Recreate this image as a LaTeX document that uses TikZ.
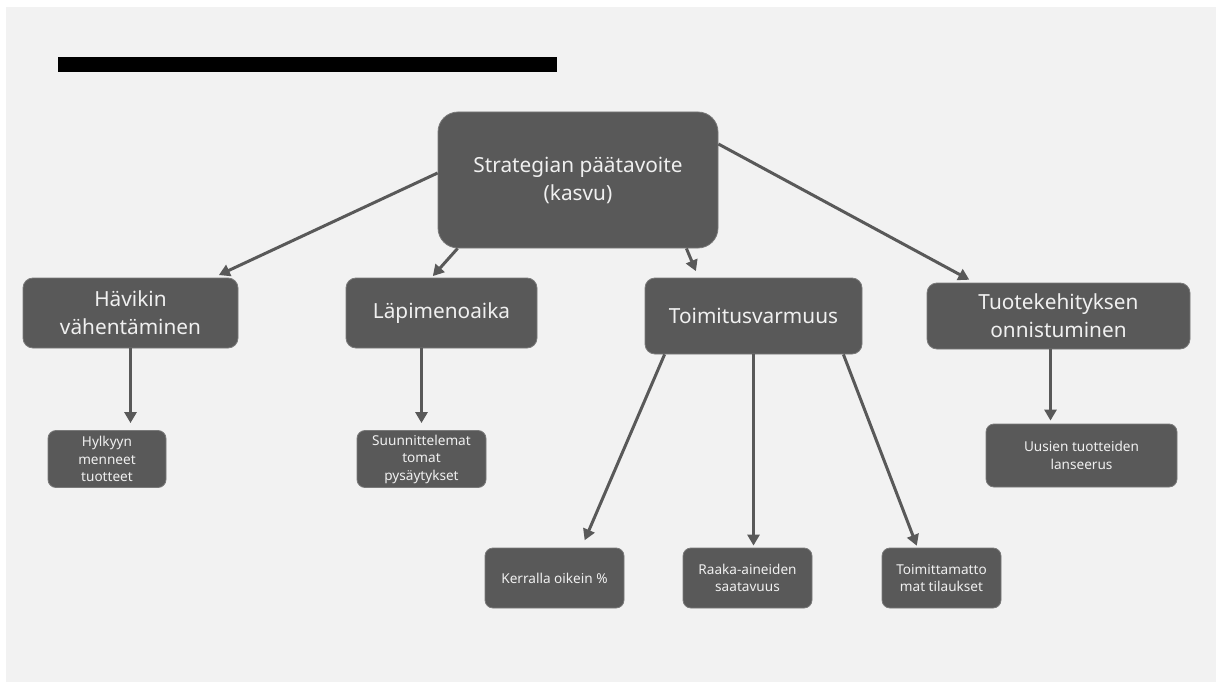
\documentclass[tikz,border=0pt]{standalone}
\usepackage{fontspec}
\setmainfont{Noto Sans}
\usetikzlibrary{arrows.meta, positioning, calc}
\definecolor{boxgray}{RGB}{89,89,89}
\definecolor{pagegray}{RGB}{242,242,242}
\definecolor{textgray}{RGB}{240,240,240}
\tikzset{
  goalbox/.style={rectangle, align=center, draw=boxgray!80!white, fill=boxgray, text=textgray, font=\fontsize{20.8}{28}\selectfont, rounded corners=20pt, line width=0.8pt, inner sep=0pt},
  areabox/.style={rectangle, align=center, draw=boxgray!80!white, fill=boxgray, text=textgray, font=\fontsize{20.8}{28}\selectfont, rounded corners=10pt, line width=0.8pt, inner sep=0pt},
  metricbox/.style={rectangle, align=center, draw=boxgray!80!white, fill=boxgray, text=textgray, font=\fontsize{13.6}{17.5}\selectfont, rounded corners=8pt, line width=0.8pt, inner sep=0pt},
  arrow/.style={-{Triangle[length=11pt, width=12pt]}, line width=3pt, draw=boxgray},
}

\begin{document}
\begin{tikzpicture}[x=1pt, y=-1pt]
\useasboundingbox (0,0) rectangle (1216,682);
\fill[pagegray] (6,7) rectangle (1216,682);
\fill[black] (58,57) rectangle (557,72);
% top level
\node (goal) [goalbox, minimum width=280pt, minimum height=136pt] at (578,180) {Strategian päätavoite\\(kasvu)};
% second level
\node (havikki) [areabox, minimum width=215pt, minimum height=70pt] at (130.5,313) {Hävikin\\vähentäminen};
\node (lapi)    [areabox, minimum width=191pt, minimum height=70pt] at (441.5,313) {Läpimenoaika};
\node (toim)    [areabox, minimum width=217pt, minimum height=76pt] at (753.5,316) {Toimitusvarmuus};
\node (tuote)   [areabox, minimum width=263pt, minimum height=66pt] at (1058.5,316) {Tuotekehityksen\\onnistuminen};
% metrics
\node (hylky)    [metricbox, minimum width=118pt, minimum height=57pt] at (107,459) {Hylkyyn\\menneet\\tuotteet};
\node (suunn)    [metricbox, minimum width=129pt, minimum height=57pt] at (421.5,459) {Suunnittelemat\\tomat\\pysäytykset};
\node (kerralla) [metricbox, minimum width=139pt, minimum height=60pt] at (554.5,578) {Kerralla oikein \%};
\node (raaka)    [metricbox, minimum width=129pt, minimum height=60pt] at (747.5,578) {Raaka-aineiden\\saatavuus};
\node (toimmat)  [metricbox, minimum width=119pt, minimum height=60pt] at (941.5,578) {Toimittamatto\\mat tilaukset};
\node (uusien)   [metricbox, minimum width=191pt, minimum height=63pt] at (1081.5,455.5) {Uusien tuotteiden\\lanseerus};
\draw[arrow, shorten >=6pt] ([yshift=7pt]goal.west) -- ([xshift=-25pt]havikki.north east);
\draw[arrow, shorten >=2pt] ([xshift=20pt]goal.south west) -- ([xshift=-10pt]lapi.north);
\draw[arrow, shorten >=7pt] ([xshift=-32pt]goal.south east) -- ([xshift=54pt]toim.north west);
\draw[arrow, shorten >=6pt] ([yshift=36pt]goal.east) -- ([xshift=48pt]tuote.north west);
\draw[arrow, shorten >=7pt] (havikki.south) -- (havikki.south |- hylky.north);
\draw[arrow, shorten >=7pt] ([xshift=-20pt]lapi.south) -- (suunn.north);
\draw[arrow, shorten >=8pt] ([xshift=20pt]toim.south west) -- ([xshift=27pt]kerralla.north);
\draw[arrow, shorten >=2pt] (toim.south) -- (toim.south |- raaka.north);
\draw[arrow, shorten >=2pt] ([xshift=-19pt]toim.south east) -- ([xshift=-24pt]toimmat.north);
\draw[arrow, shorten >=3pt] ([xshift=-8pt]tuote.south) -- ([xshift=-8pt]tuote.south |- uusien.north);
\end{tikzpicture}
\end{document}
